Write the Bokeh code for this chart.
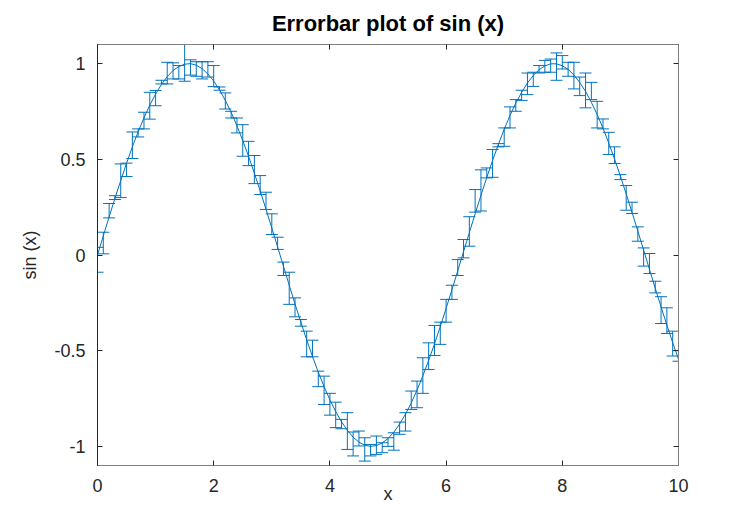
from bokeh.plotting import figure
from bokeh.models import (ColumnDataSource, Whisker, TeeHead, Range1d, FixedTicker,
                          LinearAxis)
from bokeh.embed import file_html
from bokeh.resources import INLINE

# ---- data ----
x = [0.0, 0.1, 0.2, 0.3, 0.4, 0.5, 0.6, 0.7, 0.8, 0.9,
     1.0, 1.1, 1.2, 1.3, 1.4, 1.5, 1.6, 1.7, 1.8, 1.9,
     2.0, 2.1, 2.2, 2.3, 2.4, 2.5, 2.6, 2.7, 2.8, 2.9,
     3.0, 3.1, 3.2, 3.3, 3.4, 3.5, 3.6, 3.7, 3.8, 3.9,
     4.0, 4.1, 4.2, 4.3, 4.4, 4.5, 4.6, 4.7, 4.8, 4.9,
     5.0, 5.1, 5.2, 5.3, 5.4, 5.5, 5.6, 5.7, 5.8, 5.9,
     6.0, 6.1, 6.2, 6.3, 6.4, 6.5, 6.6, 6.7, 6.8, 6.9,
     7.0, 7.1, 7.2, 7.3, 7.4, 7.5, 7.6, 7.7, 7.8, 7.9,
     8.0, 8.1, 8.2, 8.3, 8.4, 8.5, 8.6, 8.7, 8.8, 8.9,
     9.0, 9.1, 9.2, 9.3, 9.4, 9.5, 9.6, 9.7, 9.8, 9.9,
     10.0]

y = [0.000, 0.100, 0.199, 0.296, 0.389, 0.479, 0.565, 0.644, 0.717, 0.783,
     0.841, 0.891, 0.932, 0.964, 0.985, 0.997, 1.000, 0.992, 0.974, 0.946,
     0.909, 0.863, 0.808, 0.746, 0.675, 0.598, 0.516, 0.427, 0.335, 0.239,
     0.141, 0.042, -0.058, -0.158, -0.256, -0.351, -0.443, -0.530, -0.612, -0.688,
     -0.757, -0.818, -0.872, -0.916, -0.952, -0.978, -0.994, -1.000, -0.996, -0.982,
     -0.959, -0.926, -0.883, -0.832, -0.773, -0.706, -0.631, -0.551, -0.465, -0.374,
     -0.279, -0.182, -0.083, 0.017, 0.117, 0.215, 0.312, 0.405, 0.494, 0.578,
     0.657, 0.729, 0.794, 0.850, 0.899, 0.938, 0.968, 0.988, 0.999, 0.999,
     0.989, 0.970, 0.941, 0.901, 0.855, 0.798, 0.734, 0.663, 0.585, 0.501,
     0.412, 0.319, 0.223, 0.125, 0.025, -0.075, -0.174, -0.272, -0.366, -0.458,
     -0.544]

# lower and upper ends of each error bar
err_low = [-0.090, 0.006, 0.194, 0.290, 0.300, 0.410, 0.504, 0.617, 0.659, 0.710,
           0.780, 0.894, 0.894, 0.920, 0.920, 0.908, 0.940, 0.934, 0.920, 0.930,
           0.880, 0.861, 0.763, 0.716, 0.638, 0.516, 0.467, 0.373, 0.316, 0.238,
           0.107, 0.029, -0.107, -0.258, -0.323, -0.372, -0.532, -0.532, -0.688, -0.781,
           -0.837, -0.902, -0.908, -1.016, -1.050, -0.998, -1.077, -1.050, -1.042, -1.033,
           -1.000, -1.020, -0.937, -0.920, -0.807, -0.798, -0.723, -0.598, -0.525, -0.467,
           -0.351, -0.232, -0.107, -0.015, 0.046, 0.224, 0.230, 0.403, 0.406, 0.565,
           0.568, 0.664, 0.751, 0.808, 0.838, 0.881, 0.951, 0.955, 0.955, 0.913,
           0.972, 0.934, 0.868, 0.833, 0.769, 0.812, 0.664, 0.659, 0.525, 0.478,
           0.394, 0.234, 0.217, 0.072, -0.058, -0.097, -0.198, -0.358, -0.410, -0.528,
           -0.555]
err_high = [0.040, 0.119, 0.269, 0.310, 0.476, 0.480, 0.643, 0.659, 0.746, 0.850,
            0.860, 0.913, 1.007, 1.004, 0.990, 1.100, 1.020, 1.010, 1.010, 1.010,
            0.990, 0.878, 0.847, 0.751, 0.716, 0.681, 0.594, 0.520, 0.415, 0.328,
            0.215, 0.093, -0.037, -0.090, -0.224, -0.337, -0.398, -0.445, -0.607, -0.633,
            -0.723, -0.769, -0.859, -0.824, -0.925, -0.920, -0.955, -0.990, -0.946, -0.981,
            -0.955, -0.929, -0.873, -0.824, -0.711, -0.659, -0.537, -0.459, -0.368, -0.351,
            -0.232, -0.158, -0.024, 0.081, 0.200, 0.342, 0.445, 0.455, 0.551, 0.582,
            0.664, 0.774, 0.812, 0.861, 0.951, 0.955, 0.990, 1.017, 1.024, 1.056,
            1.042, 1.007, 1.007, 0.930, 0.951, 0.902, 0.803, 0.711, 0.641, 0.565,
            0.420, 0.363, 0.276, 0.147, 0.037, 0.008, -0.137, -0.218, -0.276, -0.398,
            -0.500]

x_ticks = [0, 2, 4, 6, 8, 10]
x_tick_labels = ["0", "2", "4", "6", "8", "10"]
y_ticks = [-1, -0.5, 0, 0.5, 1]
y_tick_labels = ["-1", "-0.5", "0", "0.5", "1"]

title_text = "Errorbar plot of sin (x)"
x_label = "x"
y_label = "sin (x)"

# ---- styling ----
BLUE = "#0072BD"
DARK = "#262626"
GRAY = "#808080"
FONT = "Liberation Sans"

p = figure(width=734, height=509, output_backend="svg", toolbar_location=None,
           x_range=Range1d(0, 10), y_range=Range1d(-1.1, 1.1),
           min_border_left=97, min_border_right=56, min_border_top=44,
           min_border_bottom=44)

p.background_fill_color = "white"
p.border_fill_color = "white"
p.outline_line_color = GRAY
p.outline_line_width = 1
p.grid.visible = False

p.title.text = title_text
p.title.text_font = FONT
p.title.text_font_style = "bold"
p.title.text_font_size = "22px"
p.title.text_color = "black"
p.title.align = "center"
p.title.vertical_align = "top"
p.title.standoff = 14

src = ColumnDataSource(dict(x=x, y=y, lo=err_low, hi=err_high))

p.add_layout(Whisker(base="x", lower="lo", upper="hi", source=src, dimension="height",
                     line_color=BLUE, line_width=1,
                     upper_head=TeeHead(size=12, line_color=BLUE, line_width=1),
                     lower_head=TeeHead(size=12, line_color=BLUE, line_width=1)))
p.line("x", "y", source=src, line_color=BLUE, line_width=1)

def style_axis(ax, ticks, labels):
    ax.ticker = FixedTicker(ticks=ticks)
    ax.major_label_overrides = {t: l for t, l in zip(ticks, labels)}
    ax.minor_tick_line_color = None
    ax.major_tick_in = 5
    ax.major_tick_out = 0
    ax.major_tick_line_color = DARK
    ax.major_label_text_font = FONT
    ax.major_label_text_font_size = "18px"
    ax.major_label_text_color = DARK
    ax.axis_label_text_font = FONT
    ax.axis_label_text_font_size = "18px"
    ax.axis_label_text_font_style = "normal"
    ax.axis_label_text_color = DARK

xa = p.xaxis[0]
style_axis(xa, x_ticks, x_tick_labels)
xa.axis_label = x_label
xa.axis_line_color = GRAY
xa.major_label_standoff = 13
xa.axis_label_standoff = -11

ya = p.yaxis[0]
style_axis(ya, y_ticks, y_tick_labels)
ya.axis_label = y_label
ya.axis_line_color = DARK
ya.major_label_standoff = 12
ya.axis_label_standoff = 11

top = LinearAxis()
style_axis(top, x_ticks, [""] * len(x_ticks))
top.major_label_text_font_size = "0px"
top.axis_line_color = GRAY
p.add_layout(top, "above")

right = LinearAxis()
style_axis(right, y_ticks, [""] * len(y_ticks))
right.major_label_text_font_size = "0px"
right.axis_line_color = GRAY
p.add_layout(right, "right")

open("out.html", "w").write(file_html(p, INLINE))
